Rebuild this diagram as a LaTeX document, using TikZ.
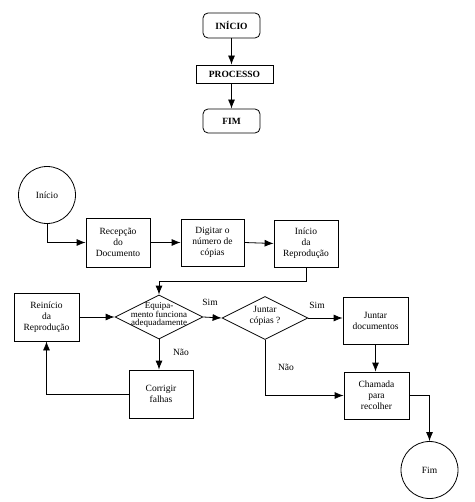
\documentclass[tikz,border=0pt]{standalone}
\usepackage{fontspec}
\setmainfont{Liberation Serif}
\newfontfamily\tnr{Liberation Serif}
\usetikzlibrary{arrows.meta,shapes.geometric}
\begin{document}
\begin{tikzpicture}[x=1pt,y=-1pt,
  line width=0.8pt,
  arr/.style={-{Latex[length=9pt,width=7pt]}},
  rbox/.style={draw,rounded corners=5pt,inner sep=0pt,font=\tnr\fontsize{9.5}{11}\selectfont\bfseries},
  sbox/.style={draw,inner sep=0pt,font=\tnr\fontsize{9.5}{11}\selectfont\bfseries},
  pbox/.style={draw,inner sep=0pt,align=center,font=\tnr\fontsize{9.5}{11}\selectfont},
  circ/.style={draw,circle,inner sep=0pt,font=\tnr\fontsize{9.5}{11}\selectfont},
  dia/.style={draw,diamond,inner sep=0pt},
  txt/.style={inner sep=0pt,align=center,font=\tnr\fontsize{9.5}{11}\selectfont},
  lab/.style={inner sep=0pt,font=\tnr\fontsize{9.5}{11}\selectfont}]
\useasboundingbox (0,0) rectangle (474,502);
% top small flowchart
\node[rbox,minimum width=57pt,minimum height=25pt] (ini) at (231.5,25.5) {INÍCIO};
\node[sbox,minimum width=77pt,minimum height=18pt] (proc) at (234.5,74) {PROCESSO};
\node[rbox,minimum width=57pt,minimum height=24pt] (fimA) at (231.5,121) {FIM};
\draw[arr] (ini.south) -- (ini.south |- proc.north);
\draw[arr] (ini.south |- proc.south) -- (fimA.north);
% main flowchart
\node[circ,minimum size=57pt] (inicio) at (47,195) {Início};
\node[pbox,minimum width=64pt,minimum height=49pt] (rec) at (118,242.5) {Recepção\\do\\Documento};
\node[pbox,minimum width=63pt,minimum height=47pt] (dig) at (212.5,242.5) {Digitar o\\número de\\cópias};
\node[pbox,minimum width=64pt,minimum height=47pt] (rep) at (306,243.5) {Início\\da\\Reprodução};
\node[dia,minimum width=88pt,minimum height=44pt] (eq) at (159,317) {};
\node[txt,font=\tnr\fontsize{9}{8}\selectfont] (eqt) at (159,315) {Equipa-\\mento funciona\\adequadamente};
\node[pbox,minimum width=65pt,minimum height=48pt] (rei) at (46.5,317) {Reinício\\da\\Reprodução};
\node[dia,minimum width=86pt,minimum height=43pt] (jc) at (265,318) {};
\node[txt] (jct) at (265,316) {Juntar\\cópias ?};
\node[pbox,minimum width=65pt,minimum height=47pt] (jd) at (375.5,320.5) {Juntar\\documentos};
\node[pbox,minimum width=65pt,minimum height=47pt] (ch) at (376.5,395.5) {Chamada\\para\\recolher};
\node[pbox,minimum width=64pt,minimum height=48pt] (cor) at (161,394) {Corrigir\\falhas};
\node[circ,minimum size=57pt] (fim) at (429.5,470) {Fim};
% connectors
\draw[arr] (inicio.south) |- (rec.west);
\draw[arr] (rec.east) -- (dig.west);
\draw[arr] (dig.east) -- (rep.west);
\draw[arr] (rep.south) -- ++(0,14) -| (eq.north);
\draw[arr] (rei.east) -- (eq.west);
\draw[arr] (eq.east) -- (jc.west);
\draw[arr] (jc.east) -- (jc.east -| jd.west);
\draw[arr] (jd.south) -- (jd.south |- ch.north);
\draw[arr] (jc.south) |- (ch.west);
\draw[arr] (ch.east) -| (fim.north);
\draw[arr] (eq.south) -- (eq.south |- cor.north);
\draw[arr] (cor.west) -| (rei.south);
% labels
\node[lab] (s1) at (210,302) {Sim};
\node[lab] (s2) at (317,305) {Sim};
\node[lab] (n1) at (181,352) {Não};
\node[lab] (n2) at (286,367) {Não};
\end{tikzpicture}
\end{document}
